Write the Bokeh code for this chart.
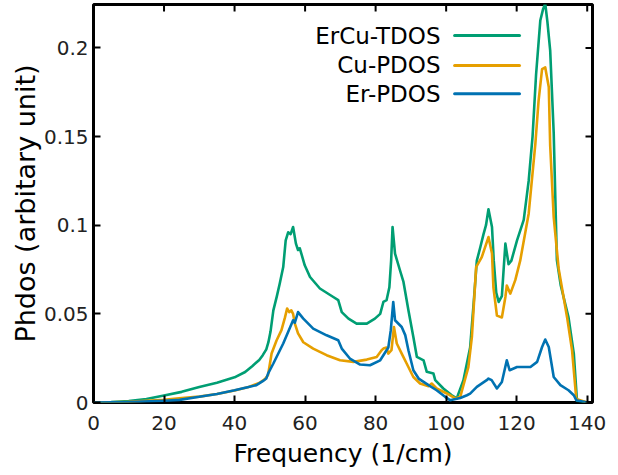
from bokeh.plotting import figure
from bokeh.models import FixedTicker, CustomJSTickFormatter, Range1d, ColumnDataSource
from bokeh.core.properties import value
from bokeh.embed import file_html
from bokeh.resources import INLINE

# ---------------- data ----------------
tdos_freq = [0, 5, 10, 15, 20, 25, 30, 35, 40, 43, 45, 47, 48, 49, 49.6, 50.2, 51, 52, 52.8, 53.8,
             54.5, 55.2, 55.9, 56.6, 57.4, 58, 58.5, 59.9, 61.4, 64.2, 68, 69.4, 70.4, 72.3, 74.6,
             77.5, 79.8, 81.3, 82.2, 83.1, 83.9, 84.4, 84.8, 85.5, 86.9, 87.9, 89.3, 90.7, 91.7,
             93.6, 94.5, 96.4, 96.9, 99.2, 101.6, 103, 104.9, 106.8, 107.8, 108.7, 109.7, 110.6,
             111.3, 112, 113, 113.5, 114.2, 114.9, 115.8, 116.3, 116.8, 117.7, 118.5, 120.1, 122,
             123.4, 124.5, 125.5, 126.7, 127.5, 128.1, 128.7, 129.5, 130.5, 131.4, 132.5, 134.7,
             136.2, 137.1, 140]
tdos = [0, 0.0002, 0.0008, 0.002, 0.004, 0.006, 0.0088, 0.0112, 0.0142, 0.0172, 0.0205, 0.024,
        0.0267, 0.030, 0.034, 0.040, 0.052, 0.060, 0.067, 0.0764, 0.0915, 0.096, 0.095, 0.099,
        0.0896, 0.086, 0.087, 0.0774, 0.0708, 0.0643, 0.0595, 0.0577, 0.051, 0.0473, 0.0445,
        0.0445, 0.0473, 0.050, 0.0567, 0.0577, 0.065, 0.080, 0.099, 0.084, 0.0746, 0.068, 0.052,
        0.037, 0.0257, 0.0238, 0.0173, 0.0163, 0.0126, 0.0079, 0.0041, 0.0023, 0.0126, 0.031,
        0.056, 0.080, 0.0877, 0.095, 0.100, 0.109, 0.099, 0.080, 0.062, 0.0567, 0.060, 0.075,
        0.0896, 0.078, 0.080, 0.0915, 0.103, 0.125, 0.150, 0.185, 0.2155, 0.222, 0.225, 0.215,
        0.1986, 0.152, 0.0803, 0.066, 0.048, 0.0276, 0.001, 0]

cu_freq = [0, 5, 10, 15, 20, 25, 30, 35, 40, 44, 47, 48.5, 49.5, 50.5, 51.9, 53.3, 54.3, 54.9,
           55.5, 56.1, 56.6, 57.1, 58, 59.5, 62.3, 66.1, 69.9, 73.7, 77.5, 80.3, 81.7, 82.2, 83.1,
           83.6, 84.5, 85.2, 86, 87.4, 88.8, 90.7, 92.6, 95, 95.9, 97.3, 100.2, 102.6, 104, 106.3,
           107.3, 108.5, 110.1, 112, 113, 113.4, 114.4, 115.8, 116.8, 117.2, 118.2, 119.6, 121,
           123.4, 125.3, 126.2, 127.2, 128.1, 129.1, 129.5, 130.5, 131.9, 134.3, 135.7, 136.9, 140]
cu_pdos = [0, 0.0001, 0.0004, 0.001, 0.0015, 0.0025, 0.0033, 0.0048, 0.0068, 0.0088, 0.011, 0.013,
           0.0155, 0.0276, 0.035, 0.0408, 0.048, 0.053, 0.051, 0.052, 0.050, 0.0445, 0.039, 0.034,
           0.0304, 0.0267, 0.0238, 0.0229, 0.0242, 0.0257, 0.0295, 0.0304, 0.031, 0.0276, 0.0295,
           0.0426, 0.0333, 0.0276, 0.022, 0.0144, 0.0107, 0.0092, 0.0107, 0.0079, 0.0051, 0.0023,
           0.0032, 0.020, 0.037, 0.0764, 0.082, 0.0933, 0.084, 0.065, 0.049, 0.048, 0.0595, 0.066,
           0.0614, 0.069, 0.080, 0.1065, 0.146, 0.170, 0.188, 0.189, 0.178, 0.145, 0.1046, 0.0755,
           0.048, 0.0295, 0.002, 0]

er_freq = [0, 10, 20, 24.4, 30, 35, 40, 44, 46.2, 48, 49, 49.5, 51, 53.8, 56.6, 57.1, 58, 59.5,
           62.3, 66.1, 69.4, 70.4, 72.7, 75.6, 78.4, 81.3, 83.1, 83.6, 84.3, 85, 85.5, 87.4, 88.4,
           89.3, 90.7, 92.2, 95, 97.3, 99.7, 101.1, 104, 105.9, 106.8, 108.7, 111.5, 112, 112.9,
           114.4, 115.8, 117.2, 118, 120.1, 123.9, 125.8, 127.2, 128.1, 129.1, 130.5, 132.4, 134.7,
           136.2, 136.9, 140]
er_pdos = [0, 0.0002, 0.001, 0.0015, 0.0032, 0.0048, 0.0069, 0.0088, 0.0098, 0.012, 0.0135, 0.0163,
           0.022, 0.0333, 0.0464, 0.045, 0.051, 0.0473, 0.0417, 0.0379, 0.0351, 0.0304, 0.0248,
           0.0214, 0.021, 0.0238, 0.0295, 0.031, 0.0408, 0.0567, 0.0464, 0.0426, 0.038, 0.0295,
           0.0182, 0.0135, 0.0098, 0.0069, 0.0032, 0.0013, 0.0025, 0.0041, 0.005, 0.0088, 0.0126,
           0.0135, 0.0126, 0.0079, 0.0116, 0.0238, 0.0182, 0.020, 0.020, 0.0229, 0.0313, 0.0355,
           0.0313, 0.0144, 0.0098, 0.0069, 0.0041, 0.0013, 0]

series_names = ["ErCu-TDOS", "Cu-PDOS", "Er-PDOS"]
series_colors = ["#009E73", "#E69F00", "#0072B2"]
x_ticks = [0, 20, 40, 60, 80, 100, 120, 140]
y_ticks = [0, 0.05, 0.1, 0.15, 0.2]
x_label = "Frequency (1/cm)"
y_label = "Phdos (arbitary unit)"

# axis extents
X_MAX = 141.5
Y_MAX = 0.2245

# legend placement (data coordinates of the key, top-right, gnuplot style: text then line)
legend_text_x = 98.4
legend_line_x0 = 102.4
legend_line_x1 = 120.8
legend_rows_y = [0.2070, 0.1901, 0.1741]

FONT = "DejaVu Sans"
W, H = 610, 475
B_LEFT, B_RIGHT, B_TOP, B_BOTTOM = 93, 18, 4, 73
FRAME_W, FRAME_H = W - B_LEFT - B_RIGHT, H - B_TOP - B_BOTTOM
TICK_LEN = 7  # px, inward

p = figure(width=W, height=H, x_range=Range1d(0, X_MAX), y_range=Range1d(0, Y_MAX),
           output_backend="svg", toolbar_location=None,
           min_border_left=B_LEFT, min_border_right=B_RIGHT,
           min_border_top=B_TOP, min_border_bottom=B_BOTTOM)
p.grid.visible = False
p.outline_line_color = "black"
p.outline_line_width = 3
p.background_fill_color = "white"
p.border_fill_color = "white"

# data lines (TDOS first, Er last -> on top)
for fx, fy, c in [(tdos_freq, tdos, series_colors[0]),
                  (cu_freq, cu_pdos, series_colors[1]),
                  (er_freq, er_pdos, series_colors[2])]:
    p.line(fx, fy, line_color=c, line_width=2.6, line_join="round")

# axes
for ax in (p.xaxis[0], p.yaxis[0]):
    ax.major_tick_in = TICK_LEN
    ax.major_tick_out = 0
    ax.major_tick_line_width = 2
    ax.major_tick_line_color = "black"
    ax.minor_tick_line_color = None
    ax.axis_line_color = None
    ax.major_label_text_font = FONT
    ax.major_label_text_font_size = "20px"
    ax.major_label_text_color = "#222222"
    ax.axis_label_text_font = FONT
    ax.axis_label_text_font_style = "normal"
    ax.axis_label_text_color = "black"

p.xaxis[0].axis_label_text_font_size = "25px"
p.yaxis[0].axis_label_text_font_size = "27px"
p.xaxis[0].ticker = FixedTicker(ticks=x_ticks)
p.yaxis[0].ticker = FixedTicker(ticks=y_ticks)
p.yaxis[0].formatter = CustomJSTickFormatter(code="return tick.toString();")
p.xaxis[0].axis_label = x_label
p.yaxis[0].axis_label = y_label
p.xaxis[0].major_label_standoff = 13
p.xaxis[0].axis_label_standoff = 6
p.yaxis[0].major_label_standoff = 5
p.yaxis[0].axis_label_standoff = 0

# mirrored (inward) ticks on the top and right edges, like gnuplot's default border tics
dy = TICK_LEN * Y_MAX / FRAME_H
dx = TICK_LEN * X_MAX / FRAME_W
p.segment(x0=x_ticks, x1=x_ticks, y0=[Y_MAX] * len(x_ticks), y1=[Y_MAX - dy] * len(x_ticks),
          line_color="black", line_width=2)
p.segment(x0=[X_MAX] * len(y_ticks), x1=[X_MAX - dx] * len(y_ticks), y0=y_ticks, y1=y_ticks,
          line_color="black", line_width=2)

# key
key_src = ColumnDataSource(dict(
    name=series_names, color=series_colors, y=legend_rows_y,
    tx=[legend_text_x] * 3, x0=[legend_line_x0] * 3, x1=[legend_line_x1] * 3))
p.text(x="tx", y="y", text="name", source=key_src, text_align="right", text_baseline="middle",
       text_font=value(FONT), text_font_size="23px", text_color="black")
p.segment(x0="x0", y0="y", x1="x1", y1="y", source=key_src, line_color="color",
          line_width=3, line_cap="round")

open("out.html", "w").write(file_html(p, INLINE))
